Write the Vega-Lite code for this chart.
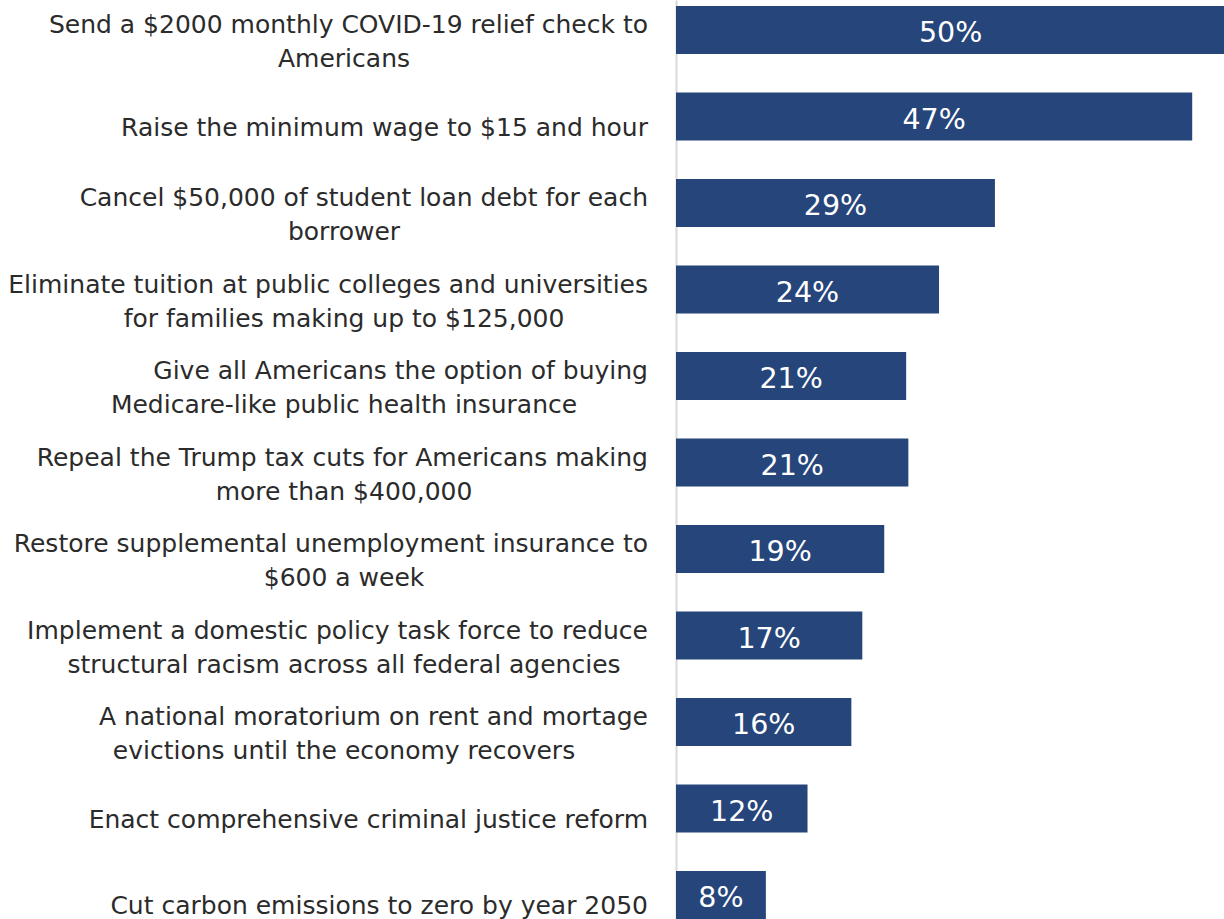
{
  "$schema": "https://vega.github.io/schema/vega-lite/v6.json",
  "width": 548,
  "height": 919,
  "autosize": {"type": "none"},
  "padding": {"left": 676, "top": 0, "right": 0, "bottom": 0},
  "background": "white",
  "config": {"view": {"stroke": null}, "text": {"font": "DejaVu Sans"}},
  "data": {
    "values": [
      {"rank": 1, "line1": "Send a $2000 monthly COVID-19 relief check to", "line2": "Americans", "value": 50.1, "pct": "50%"},
      {"rank": 2, "line1": "Raise the minimum wage to $15 and hour", "line2": "", "value": 47.1, "pct": "47%"},
      {"rank": 3, "line1": "Cancel $50,000 of student loan debt for each", "line2": "borrower", "value": 29.1, "pct": "29%"},
      {"rank": 4, "line1": "Eliminate tuition at public colleges and universities", "line2": "for families making up to $125,000", "value": 24.0, "pct": "24%"},
      {"rank": 5, "line1": "Give all Americans the option of buying", "line2": "Medicare-like public health insurance", "value": 21.0, "pct": "21%"},
      {"rank": 6, "line1": "Repeal the Trump tax cuts for Americans making", "line2": "more than $400,000", "value": 21.2, "pct": "21%"},
      {"rank": 7, "line1": "Restore supplemental unemployment insurance to", "line2": "$600 a week", "value": 19.0, "pct": "19%"},
      {"rank": 8, "line1": "Implement a domestic policy task force to reduce", "line2": "structural racism across all federal agencies", "value": 17.0, "pct": "17%"},
      {"rank": 9, "line1": "A national moratorium on rent and mortage", "line2": "evictions until the economy recovers", "value": 16.0, "pct": "16%"},
      {"rank": 10, "line1": "Enact comprehensive criminal justice reform", "line2": "", "value": 12.0, "pct": "12%"},
      {"rank": 11, "line1": "Cut carbon emissions to zero by year 2050", "line2": "", "value": 8.2, "pct": "8%"}
    ]
  },
  "encoding": {
    "y": {
      "field": "rank",
      "type": "ordinal",
      "scale": {"paddingInner": 0.445, "paddingOuter": 0.035, "align": 1},
      "axis": {"labels": false, "ticks": false, "title": null, "grid": false, "domainColor": "#D9D9D9", "domainWidth": 2}
    }
  },
  "layer": [
    {
      "mark": {"type": "bar", "color": "#26457A"},
      "encoding": {
        "x": {"field": "value", "type": "quantitative", "scale": {"domain": [0, 50]}, "axis": null}
      }
    },
    {
      "mark": {"type": "text", "color": "white", "fontSize": 28.5, "align": "center", "baseline": "middle", "dy": 3},
      "encoding": {
        "x": {"field": "value", "type": "quantitative", "scale": {"domain": [0, 100]}, "axis": null},
        "text": {"field": "pct", "type": "nominal"}
      }
    },
    {
      "transform": [{"filter": "datum.line2 === ''"}],
      "mark": {"type": "text", "color": "#2b2b2b", "fontSize": 25, "align": "right", "baseline": "middle", "dx": -28, "dy": 11},
      "encoding": {
        "x": {"datum": 0, "type": "quantitative", "scale": {"domain": [0, 50]}, "axis": null},
        "text": {"field": "line1", "type": "nominal"}
      }
    },
    {
      "transform": [{"filter": "datum.line2 !== ''"}],
      "mark": {"type": "text", "color": "#2b2b2b", "fontSize": 25, "align": "right", "baseline": "middle", "dx": -28, "dy": -5},
      "encoding": {
        "x": {"datum": 0, "type": "quantitative", "scale": {"domain": [0, 50]}, "axis": null},
        "text": {"field": "line1", "type": "nominal"}
      }
    },
    {
      "transform": [{"filter": "datum.line2 !== ''"}],
      "mark": {"type": "text", "color": "#2b2b2b", "fontSize": 25, "align": "center", "baseline": "middle", "dx": -332, "dy": 29},
      "encoding": {
        "x": {"datum": 0, "type": "quantitative", "scale": {"domain": [0, 50]}, "axis": null},
        "text": {"field": "line2", "type": "nominal"}
      }
    }
  ],
  "resolve": {"scale": {"x": "independent"}}
}
